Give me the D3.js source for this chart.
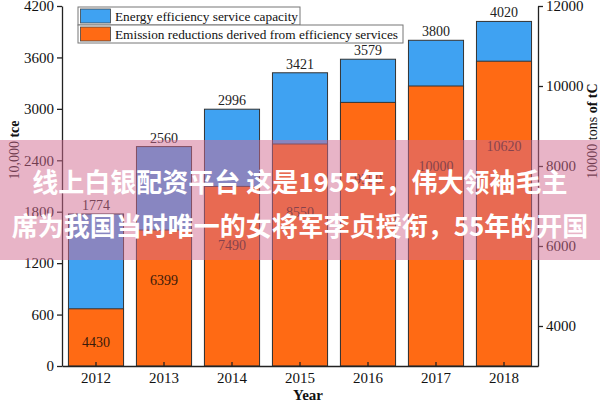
<!DOCTYPE html>
<html>
<head>
<meta charset="utf-8">
<script src="https://cdn.jsdelivr.net/npm/d3@7"></script>
<style>
  body { margin: 0; background: #fff; }
  svg { display: block; font-family: "Liberation Serif", "Times New Roman", serif; }
</style>
</head>
<body>
<div id="chart"></div>
<script>
// Data
const years = ["2012", "2013", "2014", "2015", "2016", "2017", "2018"];
const capacity = [1774, 2560, 2996, 3421, 3579, 3800, 4020];      // 10,000 tce (left)
const reductions = [4430, 6399, 7490, 8550, 9590, 10000, 10620];  // 10000 tons of tC (right)
const leftTicks = [0, 600, 1200, 1800, 2400, 3000, 3600, 4200];
const rightTicks = [4000, 6000, 8000, 10000, 12000];
const seriesNames = ["Energy efficiency service capacity", "Emission reductions derived from efficiency services"];
const overlayLines = ["线上白银配资平台 这是1955年，伟大领袖毛主", "席为我国当时唯一的女将军李贞授衔，55年的开国"];

const W = 600, H = 400;
const plot = { left: 62, right: 538, top: 6, bottom: 366 };
const blue = "#3fa2f2", orange = "#ff6a14";

const svg = d3.select("#chart").append("svg")
  .attr("width", W).attr("height", H);

const x = d3.scaleBand()
  .domain(years)
  .range([plot.left, plot.right])
  .paddingInner(0.19)
  .paddingOuter(0.095);

const yL = d3.scaleLinear().domain([0, 4200]).range([plot.bottom, plot.top]);
const yR = d3.scaleLinear().domain([3000, 12000]).range([plot.bottom, plot.top]);

// Bars: blue capacity, then orange reductions on the right scale
svg.append("g").selectAll("rect")
  .data(years)
  .enter().append("rect")
  .attr("x", d => x(d))
  .attr("width", x.bandwidth())
  .attr("y", (d, i) => yL(capacity[i]))
  .attr("height", (d, i) => plot.bottom - yL(capacity[i]))
  .attr("fill", blue)
  .attr("stroke", "#333")
  .attr("stroke-width", 1);

svg.append("g").selectAll("rect")
  .data(years)
  .enter().append("rect")
  .attr("x", d => x(d))
  .attr("width", x.bandwidth())
  .attr("y", (d, i) => yR(reductions[i]))
  .attr("height", (d, i) => plot.bottom - yR(reductions[i]))
  .attr("fill", orange)
  .attr("stroke", "#333")
  .attr("stroke-width", 1);

// value labels
svg.append("g").selectAll("text")
  .data(years)
  .enter().append("text")
  .attr("x", d => x(d) + x.bandwidth() / 2)
  .attr("y", (d, i) => yL(capacity[i]) - 4)
  .attr("text-anchor", "middle")
  .attr("font-size", 14)
  .attr("fill", "#222")
  .text((d, i) => capacity[i]);

svg.append("g").selectAll("text")
  .data(years)
  .enter().append("text")
  .attr("x", d => x(d) + x.bandwidth() / 2)
  .attr("y", (d, i) => yR(reductions[i] * 0.79) + 1)
  .attr("text-anchor", "middle")
  .attr("font-size", 14)
  .attr("fill", "#3a1a0a")
  .text((d, i) => reductions[i]);

// Axes
const axisL = svg.append("g")
  .attr("transform", `translate(${plot.left},0)`)
  .call(d3.axisLeft(yL).tickValues(leftTicks).tickFormat(d3.format("d")).tickSize(5).tickSizeOuter(0));
const axisR = svg.append("g")
  .attr("transform", `translate(${plot.right},0)`)
  .call(d3.axisRight(yR).tickValues(rightTicks).tickFormat(d3.format("d")).tickSize(5).tickSizeOuter(0));
const axisB = svg.append("g")
  .attr("transform", `translate(0,${plot.bottom})`)
  .call(d3.axisBottom(x).tickSize(-4).tickSizeOuter(0).tickPadding(6));

[axisL, axisR, axisB].forEach(g => {
  g.selectAll("path, line").attr("stroke", "#222").attr("stroke-width", 1.3);
  g.selectAll("text")
    .attr("font-family", "Liberation Serif, serif")
    .attr("font-size", 15)
    .attr("fill", "#111");
});

// Axis titles
const tl = svg.append("text")
  .attr("transform", `translate(19,${(plot.top + plot.bottom) / 2 - 36}) rotate(-90)`)
  .attr("text-anchor", "middle")
  .attr("font-size", 14)
  .attr("fill", "#111");
tl.append("tspan").text("10,000 ");
tl.append("tspan").attr("font-weight", "bold").text("tce");

const tr = svg.append("text")
  .attr("transform", `translate(597,${(plot.top + plot.bottom) / 2 - 55}) rotate(-90)`)
  .attr("text-anchor", "middle")
  .attr("font-size", 14)
  .attr("fill", "#111");
tr.append("tspan").text("10000 tons ");
tr.append("tspan").attr("font-weight", "bold").text("of tC");

svg.append("text")
  .attr("x", 308)
  .attr("y", 400)
  .attr("text-anchor", "middle")
  .attr("font-size", 15)
  .attr("font-weight", "bold")
  .attr("fill", "#111")
  .text("Year");

// Legend: each entry has its own framed box
const legendWidths = [222, 325];
const legendColors = [blue, orange];
seriesNames.forEach((name, i) => {
  const g = svg.append("g").attr("transform", `translate(78,${7 + i * 18})`);
  g.append("rect")
    .attr("width", legendWidths[i]).attr("height", 18)
    .attr("fill", "#fff").attr("stroke", "#777").attr("stroke-width", 1);
  g.append("rect")
    .attr("x", 2.5).attr("y", 2).attr("width", 30).attr("height", 14)
    .attr("fill", legendColors[i]).attr("stroke", "#444").attr("stroke-width", 0.8);
  g.append("text")
    .attr("x", 37).attr("y", 14)
    .attr("font-size", 13.3)
    .attr("fill", "#111")
    .text(name);
});

// Pink overlay band with text
svg.append("rect")
  .attr("x", 0).attr("y", 140).attr("width", W).attr("height", 120)
  .attr("fill", "rgb(209,105,143)").attr("fill-opacity", 0.5);

svg.append("g").selectAll("text")
  .data(overlayLines)
  .enter().append("text")
  .attr("x", 300)
  .attr("y", (d, i) => 192 + i * 44)
  .attr("text-anchor", "middle")
  .attr("font-family", "Noto Sans CJK SC, sans-serif")
  .attr("font-weight", "bold")
  .attr("font-size", 26)
  .attr("fill", "#fff")
  .text(d => d);
</script>
</body>
</html>
